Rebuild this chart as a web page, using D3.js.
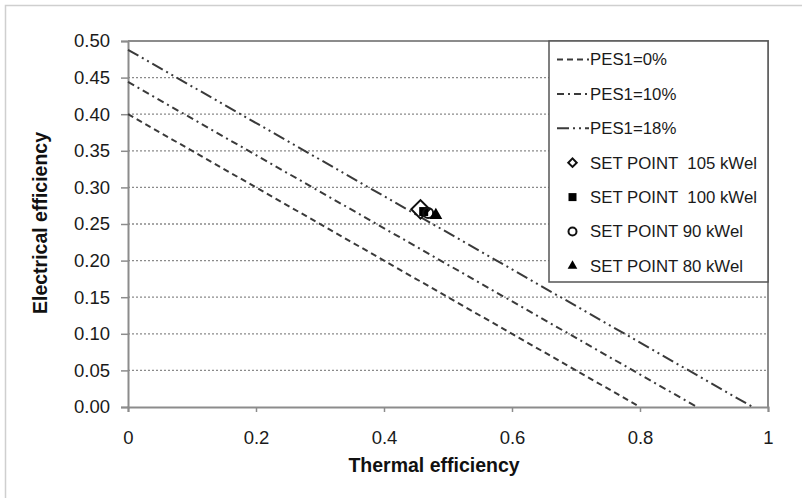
<!DOCTYPE html>
<html>
<head>
<meta charset="utf-8">
<script src="https://cdn.jsdelivr.net/npm/d3@7"></script>
<style>
  html, body { margin: 0; padding: 0; background: #fff; }
  svg { display: block; font-family: "Liberation Sans", Arial, sans-serif; }
  text { white-space: pre; }
</style>
</head>
<body>
<svg id="chart" width="802" height="498"></svg>
<script>
// Iso-PES lines: electrical intercept (thermal = 0) and thermal intercept (electrical = 0)
const pesLabels = ["PES1=0%", "PES1=10%", "PES1=18%"];
const pesElecIntercept = [0.400, 0.444, 0.488];
const pesThermIntercept = [0.800, 0.889, 0.976];
const pesDash = ["6,4", "7,4,2,4", "12,4,2,4,2,4"];

// Measured operating points
const setPointLabels = ["SET POINT  105 kWel", "SET POINT  100 kWel", "SET POINT 90 kWel", "SET POINT 80 kWel"];
const setPointThermal = [0.457, 0.462, 0.469, 0.481];
const setPointElectrical = [0.270, 0.267, 0.265, 0.262];
const setPointShape = ["diamond", "square", "circle", "triangle"];

// Axis ticks
const xTicks = [0, 0.2, 0.4, 0.6, 0.8, 1];
const yTicks = [0, 0.05, 0.10, 0.15, 0.20, 0.25, 0.30, 0.35, 0.40, 0.45, 0.50];

const svg = d3.select("#chart");
const plot = { left: 128, right: 768, top: 41, bottom: 407 };

const x = d3.scaleLinear().domain([0, 1]).range([plot.left, plot.right]);
const y = d3.scaleLinear().domain([0, 0.5]).range([plot.bottom, plot.top]);

// outer chart frame
svg.append("rect")
  .attr("x", 5.5).attr("y", 5.5).attr("width", 820).attr("height", 520)
  .attr("fill", "none").attr("stroke", "#cfcfcf").attr("stroke-width", 1.5);

// horizontal dotted gridlines
svg.append("g").selectAll("line")
  .data(yTicks.filter(v => v > 0 && v < 0.5))
  .join("line")
  .attr("x1", plot.left).attr("x2", plot.right)
  .attr("y1", d => y(d)).attr("y2", d => y(d))
  .attr("stroke", "#8a8a8a").attr("stroke-width", 1.3)
  .attr("stroke-dasharray", "2,2");

// plot frame top and right
svg.append("path")
  .attr("d", `M${plot.left},${plot.top}H${plot.right}V${plot.bottom}`)
  .attr("fill", "none").attr("stroke", "#8c8c8c").attr("stroke-width", 2);

// axes
const yAxis = d3.axisLeft(y).tickValues(yTicks).tickFormat(d3.format(".2f"))
  .tickSize(7).tickPadding(11);
const xAxis = d3.axisBottom(x).tickValues(xTicks).tickFormat(d => d3.format("")(d))
  .tickSize(5).tickPadding(19);

const gy = svg.append("g").attr("transform", `translate(${plot.left},0)`).call(yAxis);
const gx = svg.append("g").attr("transform", `translate(0,${plot.bottom})`).call(xAxis);
[gx, gy].forEach(g => {
  g.select(".domain").attr("stroke", "#8c8c8c").attr("stroke-width", 2);
  g.selectAll(".tick line").attr("stroke", "#8c8c8c").attr("stroke-width", 1.5);
  g.selectAll(".tick text").attr("fill", "#1a1a1a").attr("font-size", 18.5)
    .attr("font-family", "Liberation Sans, Arial, sans-serif");
});
gx.selectAll(".tick text").attr("dy", "0.71em");

// iso-PES lines
const lineGen = d3.line().x(d => x(d[0])).y(d => y(d[1]));
svg.append("g").selectAll("path")
  .data(pesLabels.map((l, i) => i))
  .join("path")
  .attr("d", i => lineGen([[0, pesElecIntercept[i]], [pesThermIntercept[i], 0]]))
  .attr("fill", "none").attr("stroke", "#3a3a3a").attr("stroke-width", 2)
  .attr("stroke-dasharray", i => pesDash[i]);

// marker drawing
function drawMarker(g, shape, cx, cy, s) {
  if (shape === "diamond") {
    g.append("path")
      .attr("d", d3.symbol(d3.symbolSquare, s * s)())
      .attr("transform", `translate(${cx},${cy}) rotate(45)`)
      .attr("fill", "#fff").attr("stroke", "#111").attr("stroke-width", 2);
  } else if (shape === "square") {
    g.append("path")
      .attr("d", d3.symbol(d3.symbolSquare, s * s)())
      .attr("transform", `translate(${cx},${cy})`)
      .attr("fill", "#000");
  } else if (shape === "circle") {
    g.append("path")
      .attr("d", d3.symbol(d3.symbolCircle, Math.PI * (s / 2) * (s / 2))())
      .attr("transform", `translate(${cx},${cy})`)
      .attr("fill", "none").attr("stroke", "#111").attr("stroke-width", 2);
  } else {
    g.append("path")
      .attr("d", d3.symbol(d3.symbolTriangle, s * s * 0.5)())
      .attr("transform", `translate(${cx},${cy})`)
      .attr("fill", "#000");
  }
}

const markerSize = [13, 9, 10, 12];
const pts = svg.append("g");
setPointShape.forEach((shape, i) => {
  drawMarker(pts, shape, x(setPointThermal[i]), y(setPointElectrical[i]), markerSize[i]);
});

// legend
const lg = svg.append("g");
lg.append("rect")
  .attr("x", 549).attr("y", 41).attr("width", 219).attr("height", 241)
  .attr("fill", "#fff").attr("stroke", "#555").attr("stroke-width", 1.5);
const rowY = i => 59.5 + i * 34.4;
pesLabels.forEach((l, i) => {
  lg.append("line")
    .attr("x1", 557).attr("x2", 589).attr("y1", rowY(i)).attr("y2", rowY(i))
    .attr("stroke", "#3a3a3a").attr("stroke-width", 2)
    .attr("stroke-dasharray", pesDash[i]);
  lg.append("text").attr("x", 590).attr("y", rowY(i)).attr("dy", "0.35em")
    .attr("font-size", 16.8).attr("fill", "#1a1a1a").text(l);
});
setPointLabels.forEach((l, i) => {
  const cy = rowY(i + 3);
  drawMarker(lg, setPointShape[i], 572.5, cy, [6, 8, 8, 9][i]);
  lg.append("text").attr("x", 590).attr("y", cy).attr("dy", "0.35em")
    .attr("font-size", 16.8).attr("fill", "#1a1a1a").text(l);
});

// axis titles
svg.append("text")
  .attr("x", 434).attr("y", 465).attr("dy", "0.35em")
  .attr("text-anchor", "middle").attr("font-weight", "bold").attr("font-size", 19.5)
  .attr("fill", "#111").text("Thermal efficiency");
svg.append("text")
  .attr("transform", "translate(40,223) rotate(-90)").attr("dy", "0.35em")
  .attr("text-anchor", "middle").attr("font-weight", "bold").attr("font-size", 19.5)
  .attr("fill", "#111").text("Electrical efficiency");
</script>
</body>
</html>
